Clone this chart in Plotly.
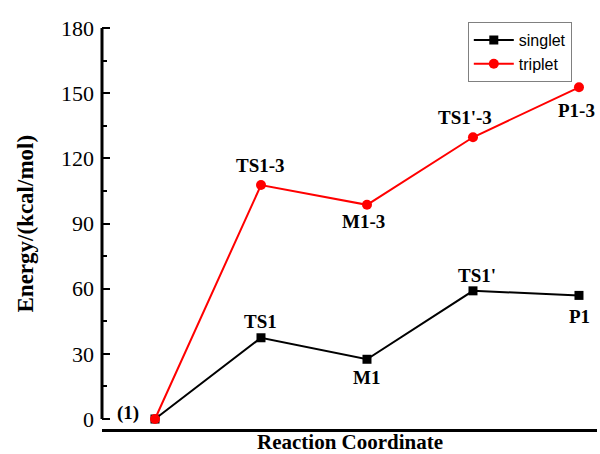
import plotly.graph_objects as go

# ---- data ----
steps = [0, 1, 2, 3, 4]
singlet_energy = [0.0, 37.4, 27.5, 59.0, 56.9]
triplet_energy = [0.0, 107.7, 98.6, 129.7, 152.7]
singlet_labels = ["(1)", "TS1", "M1", "TS1'", "P1"]
triplet_labels = ["", "TS1-3", "M1-3", "TS1'-3", "P1-3"]
y_ticks = [0, 30, 60, 90, 120, 150, 180]

# label offsets in pixels (style)
singlet_off = [(-27, 6), (0, 16), (0, -18), (4, 15), (1, -21)]
triplet_off = [(0, 0), (0, 20), (-3, -17), (-8, 20), (-2, -23)]

serif = "Liberation Serif, Times New Roman, serif"
sans = "Liberation Sans, Arial, sans-serif"

fig = go.Figure()
fig.add_trace(go.Scatter(
    x=steps, y=singlet_energy, name="singlet", mode="lines+markers",
    line=dict(color="black", width=2),
    marker=dict(symbol="square", size=9, color="black"),
    cliponaxis=False,
))
fig.add_trace(go.Scatter(
    x=steps, y=triplet_energy, name="triplet", mode="lines+markers",
    line=dict(color="#ff0000", width=2),
    marker=dict(symbol="circle", size=10, color="#ff0000"),
    cliponaxis=False,
))

annotations = []
for xs, ys, labs, offs in [(steps, singlet_energy, singlet_labels, singlet_off),
                           (steps, triplet_energy, triplet_labels, triplet_off)]:
    for x, y, t, (dx, dy) in zip(xs, ys, labs, offs):
        if not t:
            continue
        annotations.append(dict(
            x=x, y=y, xref="x", yref="y", text="<b>%s</b>" % t,
            showarrow=False, xshift=dx, yshift=dy,
            font=dict(family=serif, size=19, color="black"),
        ))

# axis titles
annotations.append(dict(
    x=0.5, y=0, xref="paper", yref="paper", xanchor="center", yanchor="middle",
    yshift=-13, text="<b>Reaction Coordinate</b>", showarrow=False,
    font=dict(family=serif, size=21, color="black"),
))
annotations.append(dict(
    x=0, y=90, xref="paper", yref="y", xanchor="center", yanchor="middle",
    xshift=-77, textangle=-90, text="<b>Energy/(kcal/mol)</b>", showarrow=False,
    font=dict(family=serif, size=23, color="black"),
))

fig.update_layout(
    width=600, height=454,
    margin=dict(l=102, r=3, t=22, b=25, autoexpand=False),
    paper_bgcolor="white", plot_bgcolor="white",
    showlegend=True,
    legend=dict(
        x=0.739, y=1.0, xanchor="left", yanchor="top",
        bordercolor="#808080", borderwidth=1, bgcolor="white",
        font=dict(family=sans, size=16, color="black"),
        tracegroupgap=0, itemwidth=40,
    ),
    annotations=annotations,
    shapes=[dict(type="line", xref="paper", yref="y", x0=0, x1=0, y0=0, y1=180,
                 line=dict(color="black", width=3))],
)

fig.update_xaxes(
    range=[-0.5, 4.17], showgrid=False, zeroline=False,
    showticklabels=False, ticks="",
    showline=True, linecolor="black", linewidth=3, automargin=False,
)
fig.update_yaxes(
    range=[-4.6, 182.76], showgrid=False, zeroline=False, showline=False,
    tickvals=y_ticks, ticktext=[str(v) for v in y_ticks],
    ticks="inside", ticklen=8, tickwidth=2, tickcolor="black",
    minor=dict(ticks="inside", ticklen=5, tickwidth=2, dtick=15, tick0=0, tickcolor="black"),
    tickfont=dict(family=serif, size=22, color="black"),
    ticklabelstandoff=7, automargin=False,
)

fig.write_html("out.html", config={"displayModeBar": False},
               post_script="document.body.style.margin='0';")
